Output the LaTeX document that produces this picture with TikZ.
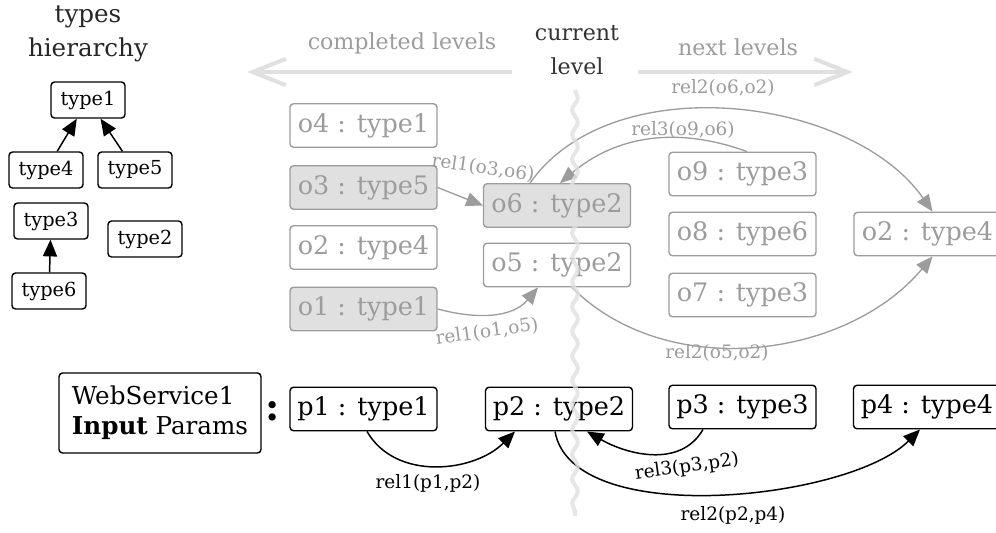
\documentclass[tikz,border=0pt]{standalone}
\usepackage{fontspec}
\setmainfont{DejaVu Serif}
\usetikzlibrary{arrows.meta,decorations.pathmorphing,calc}

\definecolor{fadegray}{HTML}{9C9C9C}
\definecolor{fadefill}{HTML}{E0E0E0}
\definecolor{levelgray}{HTML}{E0E0E0}

\begin{document}
\begin{tikzpicture}[x=0.02cm, y=-0.02cm,
    typebox/.style={draw, rounded corners=2pt, line width=0.8pt, inner sep=2pt,
      minimum width=1.48cm, minimum height=0.72cm, font=\fontsize{11}{13}\selectfont},
    objbox/.style={draw=fadegray, text=fadegray, rounded corners=2pt, line width=0.8pt,
      minimum width=2.94cm, minimum height=0.87cm, font=\fontsize{14.5}{17}\selectfont},
    donebox/.style={objbox, fill=fadefill},
    parbox/.style={draw, rounded corners=2pt, line width=0.8pt,
      minimum width=2.94cm, minimum height=0.87cm, font=\fontsize{14.5}{17}\selectfont},
    rel/.style={font=\fontsize{10.5}{12}\selectfont, inner sep=1pt},
    fadedrel/.style={rel, text=fadegray},
    relarrow/.style={-{Triangle[length=9.5pt,width=8pt]}},
    fadededge/.style={relarrow, draw=fadegray, fill=none, line width=0.75pt},
    blackedge/.style={relarrow, line width=0.85pt},
    levelarrow/.style={draw=levelgray, line width=2.3pt, -{Straight Barb[length=19pt,width=15pt]}},
    levelwave/.style={draw=levelgray, line width=2.3pt, opacity=0.8, decorate,
      decoration={snake, amplitude=1.6pt, segment length=14pt}}
  ]
    \clip[use as bounding box] (0,0) rectangle (996,532);

    % types hierarchy
    \node[align=center, text=black!85, font=\fontsize{14}{19}\selectfont] (title) at (88,34) {types\\hierarchy};
    \node[typebox] (type1) at (88,100) {type1};
    \node[typebox] (type4) at (46,170) {type4};
    \node[typebox] (type5) at (135,170) {type5};
    \node[typebox] (type3) at (51,221) {type3};
    \node[typebox] (type2) at (145,239) {type2};
    \node[typebox] (type6) at (49,291) {type6};
    \draw[blackedge] (type4) -- (type1);
    \draw[blackedge] (type5) -- (type1);
    \draw[blackedge] (type6) -- (type3);

    % levels
    \node[text=fadegray, font=\fontsize{12.6}{15}\selectfont] (donetext) at (402,43) {completed levels};
    \node[text=fadegray, font=\fontsize{12.6}{15}\selectfont] (nexttext) at (738,47) {next levels};
    \node[align=center, text=black!80, font=\fontsize{12.6}{19}\selectfont] (current) at (577,50) {current\\level};
    \coordinate (donestart) at (512,72);
    \coordinate (doneend) at (247,72);
    \coordinate (nextstart) at (638,72);
    \coordinate (nextend) at (853,72);
    \draw[levelarrow] (donestart) -- (doneend);
    \draw[levelarrow] (nextstart) -- (nextend);

    % objects
    \node[objbox] (o4) at (363.5,125.5) {o4 : type1};
    \node[donebox] (o3) at (363.5,187.5) {o3 : type5};
    \node[objbox] (o2done) at (363.5,247.5) {o2 : type4};
    \node[donebox] (o1) at (363.5,309) {o1 : type1};
    \node[donebox] (o6) at (557,205.5) {o6 : type2};
    \node[objbox] (o5) at (557,265) {o5 : type2};
    \node[objbox] (o9) at (742.5,174) {o9 : type3};
    \node[objbox] (o8) at (742.5,234) {o8 : type6};
    \node[objbox] (o7) at (742.5,295) {o7 : type3};
    \node[objbox] (o2next) at (927.5,234) {o2 : type4};

    \draw[fadededge] (o3.east) -- (o6.west);
    \draw[fadededge] (o1.east) to[out=-15, in=-130] ($(o5.south)+(-19,0)$);
    \draw[fadededge] ($(o5.south)+(15,0)$) to[out=-45, in=-130, looseness=0.95] ($(o2next.south)+(5,0)$);
    \draw[fadededge] ($(o6.north)+(-27,0)$) to[out=55, in=125, looseness=0.9] ($(o2next.north)+(5,0)$);
    \draw[fadededge] ($(o9.north)+(4.5,0)$) to[out=160, in=40] ($(o6.north)+(3,0)$);

    \node[fadedrel, rotate=-8] (relo3o6) at (483,168) {rel1(o3,o6)};
    \node[fadedrel] (relo6o2) at (723,88) {rel2(o6,o2)};
    \node[fadedrel] (relo9o6) at (683,130) {rel3(o9,o6)};
    \node[fadedrel, rotate=8] (relo1o5) at (487,332) {rel1(o1,o5)};
    \node[fadedrel] (relo5o2) at (717,353) {rel2(o5,o2)};

    % input params
    \node[draw, rounded corners=2pt, line width=0.8pt, align=left, minimum width=4.04cm,
      minimum height=1.6cm, font=\fontsize{14}{17}\selectfont] (service) at (160,413)
      {WebService1\\\textbf{Input} Params};
    \node[font=\fontsize{22}{22}\selectfont\bfseries] (colon) at (273,411) {:};
    \node[parbox] (p1) at (363.5,409) {p1 : type1};
    \node[parbox] (p2) at (559,409) {p2 : type2};
    \node[parbox] (p3) at (742.5,407) {p3 : type3};
    \node[parbox] (p4) at (927,407) {p4 : type4};

    \draw[blackedge] ($(p1.south)+(3.5,0)$) to[out=-60, in=-135] ($(p2.south)+(-44,0)$);
    \draw[blackedge] ($(p3.south)+(-39.5,0)$) to[out=-120, in=-30] ($(p2.south)+(28,0)$);
    \draw[blackedge] ($(p2.south)+(-4,0)$) to[out=-80, in=-135, looseness=0.7] ($(p4.south)+(-7,0)$);

    \node[rel] (relp1p2) at (428,483) {rel1(p1,p2)};
    \node[rel, rotate=8] (relp3p2) at (687,467) {rel3(p3,p2)};
    \node[rel] (relp2p4) at (733,515) {rel2(p2,p4)};

    % current level line
    \coordinate (wavetop) at (575,90);
    \coordinate (wavebottom) at (575,516);
    \draw[levelwave] (wavetop) -- (wavebottom);
\end{tikzpicture}
\end{document}
